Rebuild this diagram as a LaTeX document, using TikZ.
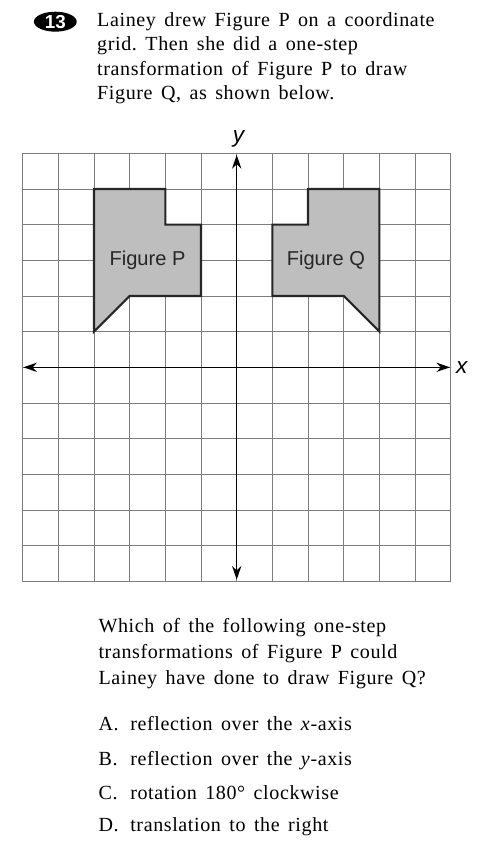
\documentclass[tikz,border=0pt]{standalone}
\usepackage{fontspec}
\setmainfont{Liberation Serif}[LetterSpace=3,WordSpace=1.5]
\newfontfamily\figfont{Liberation Sans}
\usetikzlibrary{arrows.meta}
\definecolor{figgray}{RGB}{190,190,190}
\definecolor{gridgray}{RGB}{125,125,125}
\tikzset{
	gridline/.style={draw=gridgray, line width=0.7pt},
	axisline/.style={line width=1.2pt, {Stealth[length=0.38cm,width=0.26cm]}-{Stealth[length=0.38cm,width=0.26cm]}},
	figshape/.style={fill=figgray, draw=black!85, line width=1.7pt, line join=miter},
	figlabel/.style={font=\figfont\fontsize{16}{18}\selectfont, text=black!85},
	axislabel/.style={font=\figfont\itshape\fontsize{18}{20}\selectfont},
	qtext/.style={anchor=base west, inner sep=0pt, font=\fontsize{16}{19}\selectfont},
}
\frenchspacing
\begin{document}
\begin{tikzpicture}[line join=round, line cap=round]
	\def\xmin{-6}\def\xmax{6}\def\ymin{-6}\def\ymax{6}
	\useasboundingbox (-6.636,-13.392) rectangle (6.849,10.297);
	% question
	\fill (-5.085,9.689) ellipse [x radius=0.6, y radius=0.28];
	\node[font=\figfont\bfseries\fontsize{15}{15}\selectfont, text=white] (qnum) at (-5.085,9.68) {13};
	\node[qtext] (top1) at (-3.917,9.568) {Lainey drew Figure P on a coordinate};
	\node[qtext] (top2) at (-3.917,8.878) {grid. Then she did a one-step};
	\node[qtext] (top3) at (-3.917,8.188) {transformation of Figure P to draw};
	\node[qtext] (top4) at (-3.917,7.498) {Figure Q, as shown below.};
	% grid and figures
	\draw[gridline] (\xmin,\ymin) grid (\xmax,\ymax);
	\draw[figshape] (-4,5) -- (-2,5) -- (-2,4) -- (-1,4) -- (-1,2) -- (-3,2) -- (-4,1) -- cycle;
	\draw[figshape] (4,5) -- (2,5) -- (2,4) -- (1,4) -- (1,2) -- (3,2) -- (4,1) -- cycle;
	\node[figlabel] (labP) at (-2.5,3) {Figure P};
	\node[figlabel] (labQ) at (2.5,3) {Figure Q};
	\draw[axisline] (\xmin+0.02,0) -- (\xmax-0.02,0);
	\draw[axisline] (0,\ymin+0.05) -- (0,\ymax-0.05);
	\node[axislabel] (xlab) at (6.31,0) {x};
	\node[axislabel] (ylab) at (0.05,6.4) {y};
	% choices
	\node[qtext] (ask1) at (-3.88,-7.429) {Which of the following one-step};
	\node[qtext] (ask2) at (-3.88,-8.158) {transformations of Figure P could};
	\node[qtext] (ask3) at (-3.88,-8.879) {Lainey have done to draw Figure Q?};
	\node[qtext] (optA) at (-3.88,-10.188) {A.};
	\node[qtext] (optB) at (-3.88,-11.150) {B.};
	\node[qtext] (optC) at (-3.88,-12.103) {C.};
	\node[qtext] (optD) at (-3.88,-13.02) {D.};
	\node[qtext] (txtA) at (-2.99,-10.188) {reflection over the \textit{x}-axis};
	\node[qtext] (txtB) at (-2.99,-11.150) {reflection over the \textit{y}-axis};
	\node[qtext] (txtC) at (-2.99,-12.103) {rotation 180° clockwise};
	\node[qtext] (txtD) at (-2.99,-13.02) {translation to the right};
\end{tikzpicture}
\end{document}
